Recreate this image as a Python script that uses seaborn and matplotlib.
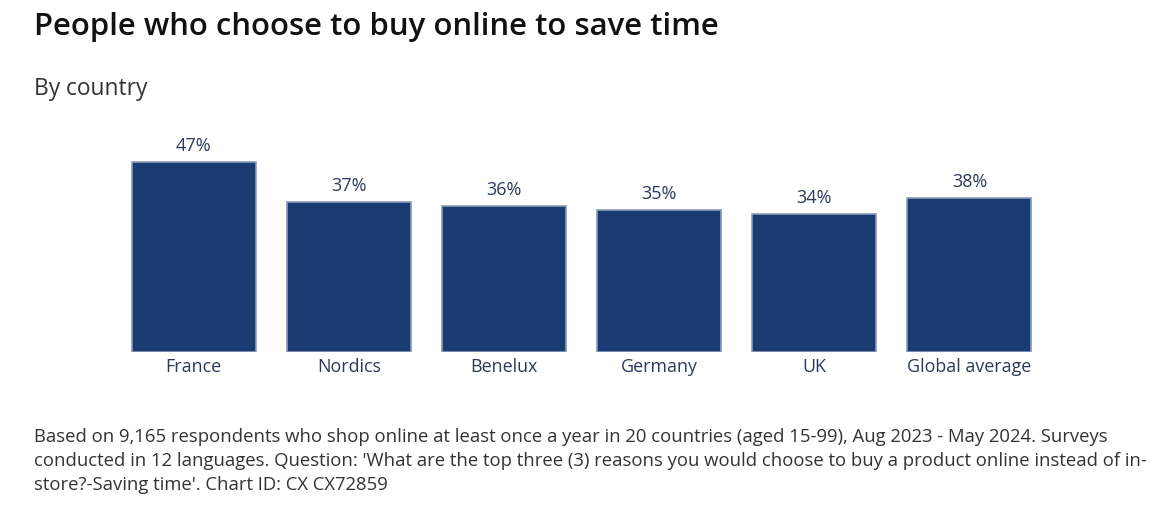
import matplotlib
matplotlib.use("Agg")
import matplotlib.pyplot as plt
import seaborn as sns
import pandas as pd

categories = ["France", "Nordics", "Benelux", "Germany", "UK", "Global average"]
values = [47, 37, 36, 35, 34, 38]
value_labels = ["47%", "37%", "36%", "35%", "34%", "38%"]

sns.set_theme(style="white")
plt.rcParams['font.family'] = ['Open Sans', 'DejaVu Sans']

df = pd.DataFrame({"country": categories, "value": values})

fig = plt.figure(figsize=(11.76, 5.10), dpi=100)
ax = fig.add_axes([116/1176, 157.5/510, 931/1176, 202/510])

sns.barplot(data=df, x="country", y="value", color="#1b3c73", saturation=1,
            width=0.8, edgecolor="#8a9bbb", linewidth=1.2, ax=ax)

ax.set_xlim(-0.5, 5.5)
ax.set_ylim(0, 50)
for i, (v, lab) in enumerate(zip(values, value_labels)):
    ax.text(i, v + 1.9, lab, ha="center", va="bottom", fontsize=13, color="#2b3a5a")

ax.set_xlabel("")
ax.set_ylabel("")
ax.set_yticks([])
ax.tick_params(axis="x", length=0, pad=3.8, labelsize=12.9, labelcolor="#2b3a5a")
for s in ax.spines.values():
    s.set_visible(False)

fig.text(34/1176, 1 - 27/510, "People who choose to buy online to save time",
         fontsize=22.4, fontweight="semibold", color="#111111", va="center", ha="left")
fig.text(34/1176, 1 - 89/510, "By country", fontsize=16.4, color="#333333",
         va="center", ha="left")
foot = ("Based on 9,165 respondents who shop online at least once a year in 20 countries (aged 15-99), Aug 2023 - May 2024. Surveys\n"
        "conducted in 12 languages. Question: 'What are the top three (3) reasons you would choose to buy a product online instead of in-\n"
        "store?-Saving time'. Chart ID: CX CX72859")
fig.text(34/1176, 1 - 428.5/510, foot, fontsize=13.3, color="#333333",
         va="top", ha="left", linespacing=1.42)

fig.savefig("out.png", dpi=100)
